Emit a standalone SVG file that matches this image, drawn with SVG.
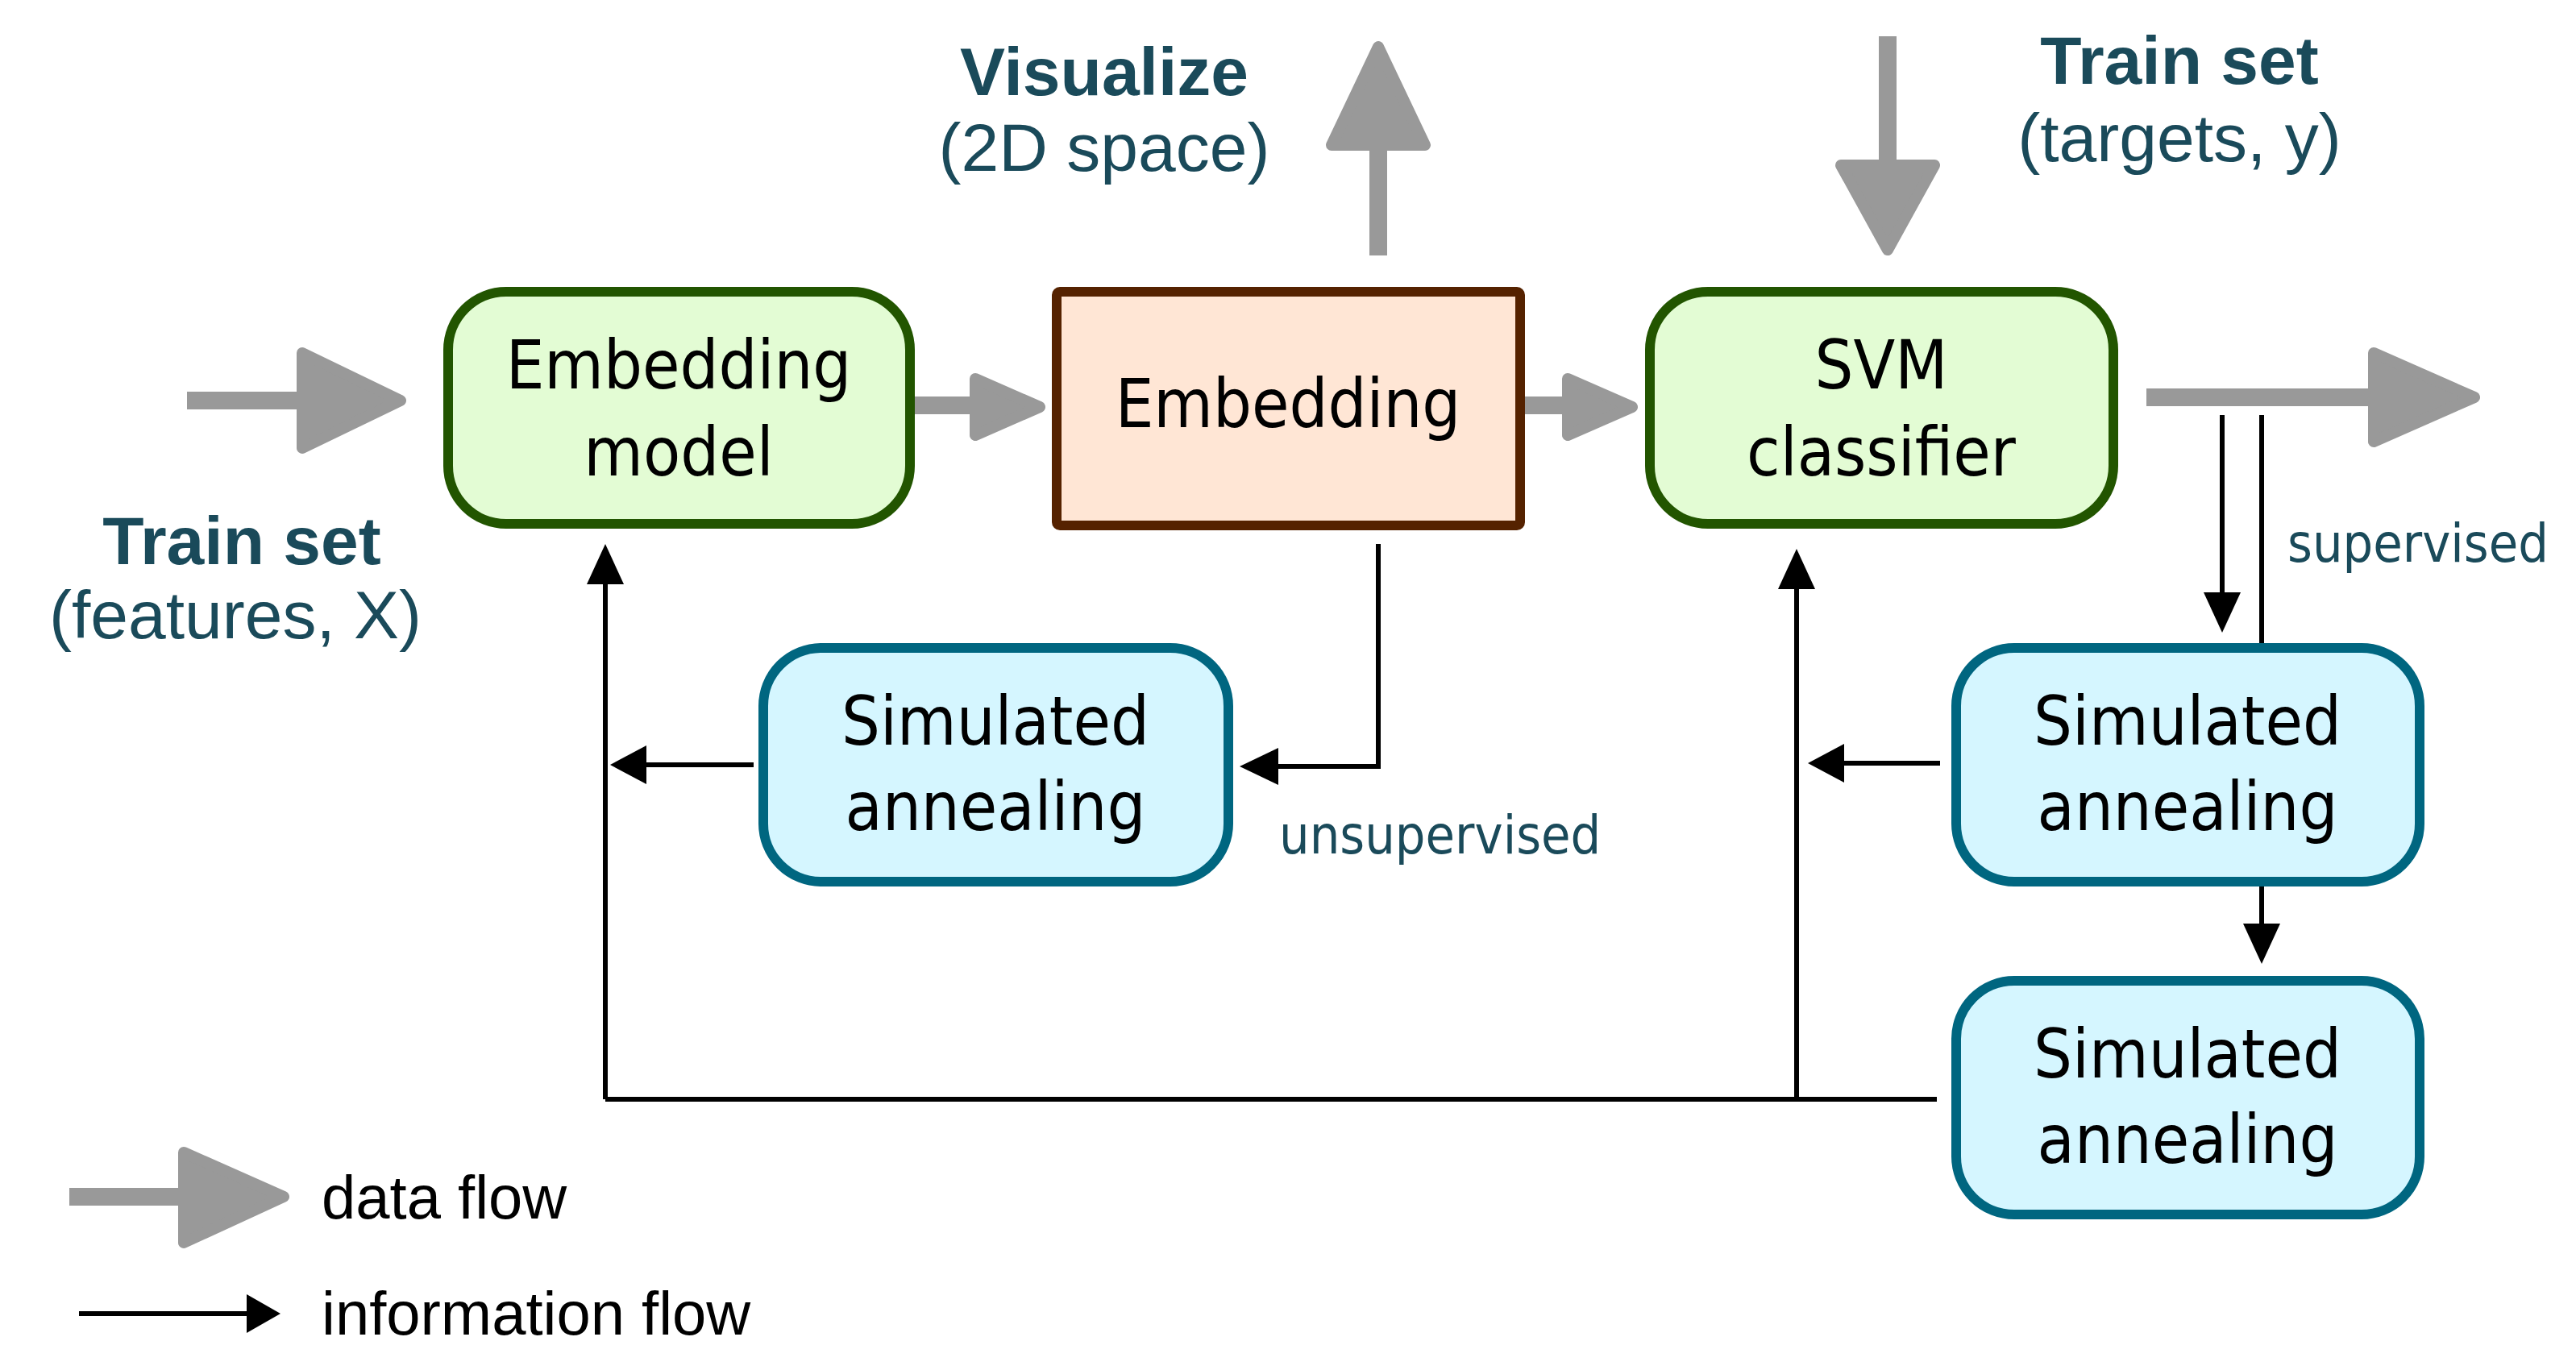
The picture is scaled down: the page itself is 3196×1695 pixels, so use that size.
<svg xmlns="http://www.w3.org/2000/svg" width="3196" height="1695" viewBox="0 0 3196 1695">
<defs>
<marker id="ah" viewBox="0 0 10 10" refX="9" refY="5" markerWidth="7" markerHeight="7" markerUnits="userSpaceOnUse" orient="auto"/>
</defs>
<style>
.node text{font-family:"DejaVu Sans Condensed","DejaVu Sans",sans-serif;font-size:84px;fill:#000;text-anchor:middle}
.g{fill:#e3fcd4;stroke:#225500;stroke-width:12}
.b{fill:#d5f6ff;stroke:#006680;stroke-width:12}
.t{font-family:"Liberation Sans",Arial,sans-serif;fill:#1a4a5a;text-anchor:middle;font-size:84px}
.lbl{font-family:"DejaVu Sans Condensed","DejaVu Sans",sans-serif;fill:#1a4a5a;font-size:66px}
.leg{font-family:"Liberation Sans",Arial,sans-serif;fill:#000;font-size:76px}
.gs{stroke:#999;stroke-width:22;fill:none}
.gh{fill:#999;stroke:#999;stroke-width:14;stroke-linejoin:round}
.k{stroke:#000;stroke-width:6;fill:none}
.kh{fill:#000}
</style>
<text class="t" x="1370" y="118" font-weight="bold">Visualize</text>
<text class="t" x="1370" y="212">(2D space)</text>
<text class="t" x="2704" y="104" font-weight="bold">Train set</text>
<text class="t" x="2704" y="200">(targets, y)</text>
<text class="t" x="300" y="700" font-weight="bold">Train set</text>
<text class="t" x="292" y="792">(features, X)</text>
<g id="connectors">
<path class="gs" d="M232 497H380"/><path class="gh" d="M375 438L497 497L375 556Z"/>
<path class="gs" d="M1135 503H1215"/><path class="gh" d="M1210 470L1290 505L1210 540Z"/>
<path class="gs" d="M1892 503H1950"/><path class="gh" d="M1945 470L2025 505L1945 540Z"/>
<path class="gs" d="M2663 493H2950"/><path class="gh" d="M2945 438L3070 493L2945 548Z"/>
<path class="gs" d="M1710 317V180"/><path class="gh" d="M1652 180L1710 58L1768 180Z"/>
<path class="gs" d="M2342 45V205"/><path class="gh" d="M2284 205L2342 310L2400 205Z"/>
<path class="k" d="M1710 675V951H1580"/><path class="kh" d="M1538 951L1586 928V974Z"/>
<path class="k" d="M935 949H790" stroke-width="10"/><path class="kh" d="M757 949L802 925V973Z"/>
<path class="k" d="M751 1364V720"/><path class="kh" d="M751 675L728 725H774Z"/>
<path class="k" d="M751 1364H2403"/>
<path class="k" d="M2229 1364V725"/><path class="kh" d="M2229 681L2206 731H2252Z"/>
<path class="k" d="M2407 947H2280" stroke-width="10"/><path class="kh" d="M2243 947L2288 923V971Z"/>
<path class="k" d="M2757 515V740"/><path class="kh" d="M2757 785L2734 735H2780Z"/>
<path class="k" d="M2806 515V804"/>
<path class="k" d="M2806 1098V1150"/><path class="kh" d="M2806 1196L2783 1146H2829Z"/>
</g>
<text class="lbl" x="2838" y="697">supervised</text>
<text class="lbl" x="1587" y="1059">unsupervised</text>
<g id="emb-model" class="node"><rect class="g" x="556" y="362" width="573" height="288" rx="72"/><text x="842" y="482">Embedding</text><text x="842" y="590">model</text></g>
<g id="embedding" class="node"><rect x="1311" y="362" width="575" height="290" rx="4" fill="#ffe6d5" stroke="#552200" stroke-width="12"/><text x="1598" y="530">Embedding</text></g>
<g id="svm" class="node"><rect class="g" x="2047" y="362" width="575" height="288" rx="72"/><text x="2334" y="482">SVM</text><text x="2334" y="590">classifier</text></g>
<g id="sa1" class="node"><rect class="b" x="947" y="804" width="577" height="290" rx="72"/><text x="1235" y="924">Simulated</text><text x="1235" y="1030">annealing</text></g>
<g id="sa2" class="node"><rect class="b" x="2427" y="804" width="575" height="290" rx="72"/><text x="2714" y="924">Simulated</text><text x="2714" y="1030">annealing</text></g>
<g id="sa3" class="node"><rect class="b" x="2427" y="1217" width="575" height="290" rx="72"/><text x="2714" y="1337">Simulated</text><text x="2714" y="1443">annealing</text></g>
<g id="legend">
<path class="gs" d="M86 1485H230"/><path class="gh" d="M228 1430L352 1485L228 1542Z"/>
<text class="leg" x="399" y="1512">data flow</text>
<path class="k" d="M98 1630H310"/><path class="kh" d="M348 1630L306 1606V1654Z"/>
<text class="leg" x="399" y="1656">information flow</text>
</g>
</svg>
